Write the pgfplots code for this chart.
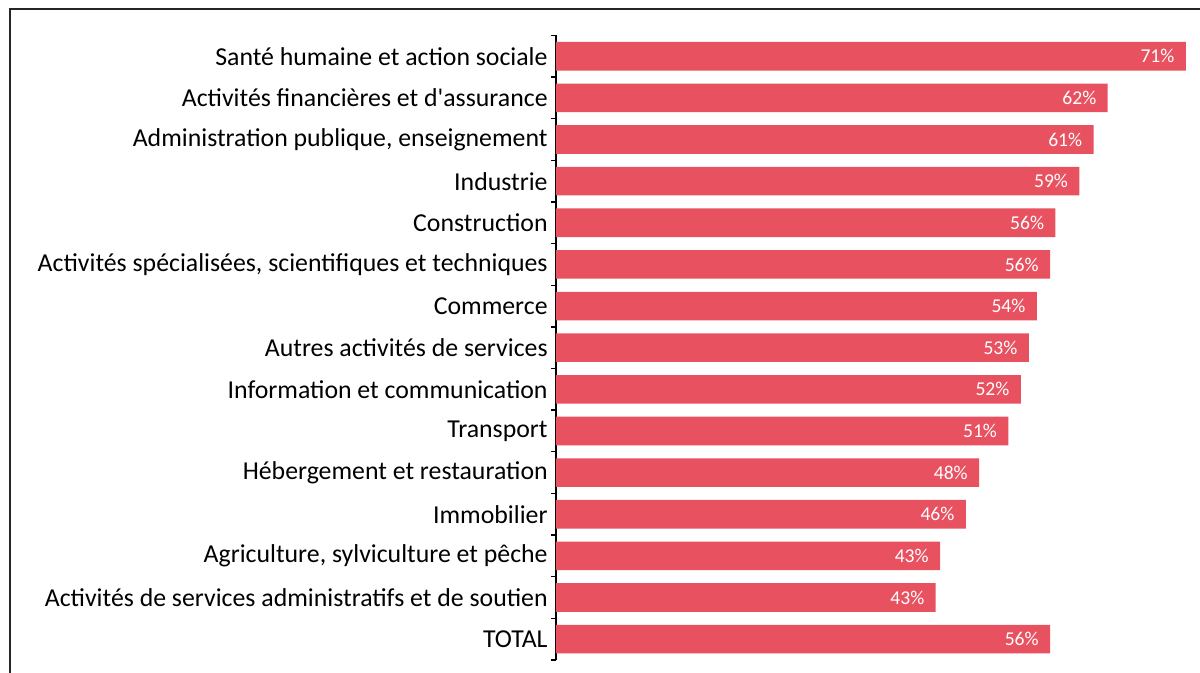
\documentclass[border=0pt]{standalone}
\usepackage{fontspec}
\setmainfont{Carlito}
\usepackage{pgfplots}
\pgfplotsset{compat=1.18}
\definecolor{barred}{RGB}{232,82,96}

\begin{document}
\begin{tikzpicture}
\begin{axis}[
  at={(0,0)}, anchor=south west,
  scale only axis, width=322pt, height=312.3pt,
  xbar, bar width=14.3pt,
  xmin=0, xmax=72.6,
  ymin=-0.5, ymax=14.5, y dir=reverse,
  axis x line=none,
  axis y line*=left,
  axis line style={black, line width=0.7pt},
  ytick={0,...,14},
  yticklabels={
    Santé humaine et action sociale,
    Activités financières et d\textquotesingle assurance,
    {Administration publique, enseignement},
    Industrie,
    Construction,
    {Activités spécialisées, scientifiques et techniques},
    Commerce,
    Autres activités de services,
    Information et communication,
    Transport,
    Hébergement et restauration,
    Immobilier,
    {Agriculture, sylviculture et pêche},
    Activités de services administratifs et de soutien,
    TOTAL},
  major tick length=0pt,
  minor ytick={-0.5,0.5,...,14.5},
  minor tick length=2.5pt,
  tick align=outside, ytick pos=left,
  tick style={black, line width=0.7pt},
  yticklabel style={font=\fontsize{12.9}{14}\selectfont, inner sep=0pt, xshift=-4pt},
  point meta=explicit symbolic,
  nodes near coords={\pgfplotspointmeta\%},
  every node near coord/.append style={anchor=east, inner sep=0pt, xshift=-5.5pt,
    text=white, font=\fontsize{9.8}{11}\selectfont},
]
\addplot[fill=barred, draw=none] table[meta=lab] {
x     y  lab
71.0  0  71
62.2  1  62
60.6  2  61
59.0  3  59
56.3  4  56
55.7  5  56
54.2  6  54
53.3  7  53
52.4  8  52
51.0  9  51
47.7  10 48
46.2  11 46
43.3  12 43
42.8  13 43
55.7  14 56
};
\end{axis}
\draw[line width=0.8pt, black!85] (-273pt,-20pt) -- (-273pt,325.5pt) -- (340pt,325.5pt);
\pgfresetboundingbox
\useasboundingbox (-278pt,-6.5pt) rectangle (322pt,330pt);
\end{tikzpicture}
\end{document}
